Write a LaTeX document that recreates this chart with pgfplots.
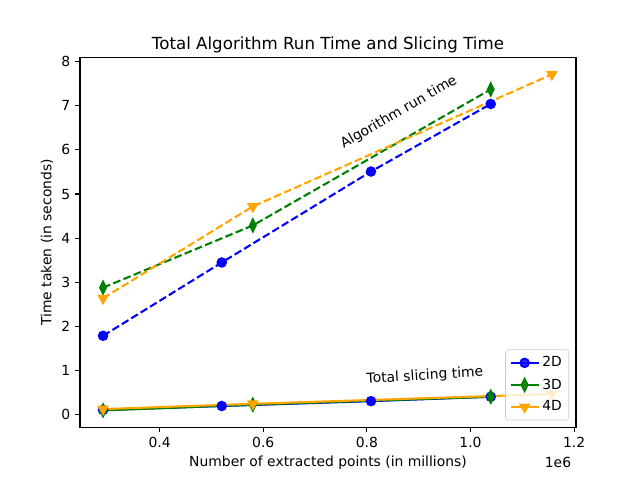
\documentclass[border=0pt]{standalone}
\usepackage{fontspec}
\setmainfont{DejaVu Sans}
\usepackage{pgfplots}
\pgfplotsset{compat=1.18}
\definecolor{mblue}{rgb}{0,0,1}
\definecolor{mgreen}{rgb}{0,0.5,0}
\definecolor{morange}{rgb}{1,0.647,0}
\begin{document}
\begin{tikzpicture}
\path[use as bounding box] (-57.6bp,-38.016bp) rectangle (403.2bp,307.584bp);
\begin{axis}[
  at={(0,0)}, anchor=south west,
  scale only axis, width=357.12bp, height=266.11bp,
  xmin=0.2465, xmax=1.2035, ymin=-0.28, ymax=8.09,
  xtick={0.4,0.6,0.8,1.0,1.2},
  xticklabels={0.4,0.6,0.8,1.0,1.2},
  ytick={0,1,2,3,4,5,6,7,8},
  /pgf/number format/assume math mode=true,
  tick label style={font=\fontsize{10bp}{12bp}\selectfont},
  tick align=outside, xtick pos=left, ytick pos=left,
  major tick length=3.5bp,
  every tick/.style={black, line width=0.8bp},
  axis line style={line width=0.8bp},
  xlabel={Number of extracted points (in millions)},
  ylabel={Time taken (in seconds)},
  label style={font=\fontsize{10bp}{12bp}\selectfont},
  xlabel style={yshift=1bp},
  ylabel style={yshift=-1bp},
  legend cell align=left,
  legend style={at={(1,0)}, anchor=south east, xshift=-5bp, yshift=5bp,
    draw=black!20, rounded corners=2bp, fill=white, fill opacity=0.8, text opacity=1,
    font=\fontsize{10bp}{12bp}\selectfont, row sep=3bp, inner sep=3bp},
  legend image code/.code={
    \draw[mark repeat=2,mark phase=2] plot coordinates {(0bp,0bp) (10bp,0bp) (20bp,0bp)};},
  clip=false,
]
% Algorithm run time (dashed)
\addplot[mblue, line width=1.5bp, dash pattern=on 5.55bp off 2.4bp, mark=*, mark size=3bp, mark options={solid}, forget plot]
 coordinates {(0.291,1.79) (0.520,3.45) (0.808,5.51) (1.039,7.04)};
\addplot[mgreen, line width=1.5bp, dash pattern=on 5.55bp off 2.4bp, mark=diamond*, mark size=4.2bp, mark options={solid, xscale=0.65}, forget plot]
 coordinates {(0.291,2.88) (0.580,4.29) (1.039,7.37)};
\addplot[morange, line width=1.5bp, dash pattern=on 5.55bp off 2.4bp, mark=triangle*, mark size=3.4bp, mark options={solid, rotate=180}, forget plot]
 coordinates {(0.291,2.64) (0.580,4.72) (1.157,7.71)};
% Total slicing time (solid)
\addplot[mblue, line width=1.5bp, mark=*, mark size=3bp]
 coordinates {(0.291,0.11) (0.520,0.20) (0.808,0.31) (1.039,0.41)};
\addlegendentry{2D}
\addplot[mgreen, line width=1.5bp, mark=diamond*, mark size=4.2bp, mark options={xscale=0.65}]
 coordinates {(0.291,0.10) (0.580,0.23) (1.039,0.41)};
\addlegendentry{3D}
\addplot[morange, line width=1.5bp, mark=triangle*, mark size=3.4bp, mark options={rotate=180}]
 coordinates {(0.291,0.13) (0.580,0.25) (1.157,0.47)};
\addlegendentry{4D}
\node[rotate=30, font=\fontsize{10bp}{12bp}\selectfont] at (axis cs:0.862,6.85) {Algorithm run time};
\node[rotate=3.5, font=\fontsize{10bp}{12bp}\selectfont] at (axis cs:0.912,0.88) {Total slicing time};
\node[anchor=base, font=\fontsize{12bp}{14bp}\selectfont] at (rel axis cs:0.5,1) [yshift=6bp] {Total Algorithm Run Time and Slicing Time};
\node[anchor=north east, font=\fontsize{10bp}{12bp}\selectfont] at (rel axis cs:1,0) [yshift=-18bp] {1e6};
\end{axis}
\end{tikzpicture}
\end{document}
